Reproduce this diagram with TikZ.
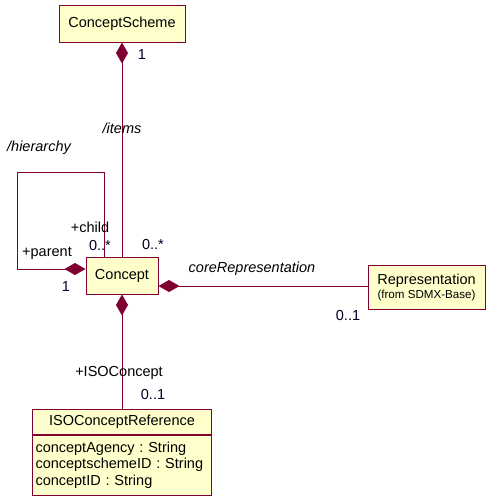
\documentclass[tikz,border=0pt]{standalone}
\usepackage{fontspec}
\setmainfont{Liberation Sans}
\usetikzlibrary{arrows.meta,calc}
\definecolor{umlline}{RGB}{128,0,51}
\definecolor{umlfill}{RGB}{255,255,204}
\definecolor{multcol}{RGB}{0,0,40}
\frenchspacing
\tikzset{
  classbox/.style={draw=umlline, fill=umlfill, line width=1pt, rectangle, inner sep=0pt, font=\fontsize{14.5}{16}\selectfont},
  assoc/.style={draw=umlline, line width=1pt},
  comp/.style={assoc, {Diamond[length=21pt,width=12pt,fill=umlline]}-},
  lbl/.style={font=\fontsize{14.5}{16}\selectfont, inner sep=0pt},
  rolelbl/.style={lbl, font=\fontsize{14.5}{16}\selectfont\itshape},
  multlbl/.style={lbl, text=multcol},
}
\begin{document}
\begin{tikzpicture}[x=1pt,y=-1pt]
\useasboundingbox (0,0) rectangle (488,496);
% classes
\node[classbox, minimum width=126pt, minimum height=37pt] (cs) at (122,23.5) {ConceptScheme};
\node[classbox, minimum width=72pt, minimum height=37pt] (concept) at (122,275.5) {Concept};
\node[classbox, minimum width=117pt, minimum height=44pt, align=center] (rep) at (426.5,287)
  {Representation\\[-2pt]{\fontsize{11.6}{13}\selectfont (from SDMX-Base)}};
\node[classbox, minimum width=179pt, minimum height=25pt] (iso) at (122,421.5) {ISOConceptReference};
\node[classbox, minimum width=179pt, minimum height=60pt, anchor=north, align=left, text width=173pt]
  (isoattr) at (iso.south) {conceptAgency : String\\[0.5pt]conceptschemeID : String\\[0.5pt]conceptID : String};
% connectors
\draw[comp] (cs.south) -- (concept.north);
\coordinate (hl) at (17,172);
\draw[comp] ([yshift=6.5pt]concept.west) -| (hl) -| ([xshift=-18pt]concept.north);
\coordinate (cr) at ([yshift=-10.5pt]concept.east);
\draw[comp] (cr) -- (cr -| rep.west);
\draw[comp] (concept.south) -- (iso.north);
% labels
\node[multlbl] (m1) at (142,55) {1};
\node[rolelbl] (items) at (122,128) {/items};
\node[rolelbl] (hier) at (39,148) {/hierarchy};
\node[lbl] (child) at (90,227) {+child};
\node[multlbl] (m2) at (100,246) {0..*};
\node[multlbl] (m3) at (153,245) {0..*};
\node[lbl] (parent) at (47,253) {+parent};
\node[multlbl] (m4) at (66,287) {1};
\node[rolelbl] (corerep) at (252,269) {coreRepresentation};
\node[multlbl] (m5) at (348,316) {0..1};
\node[lbl] (isoc) at (119,373) {+ISOConcept};
\node[multlbl] (m6) at (153,395) {0..1};
\end{tikzpicture}
\end{document}
